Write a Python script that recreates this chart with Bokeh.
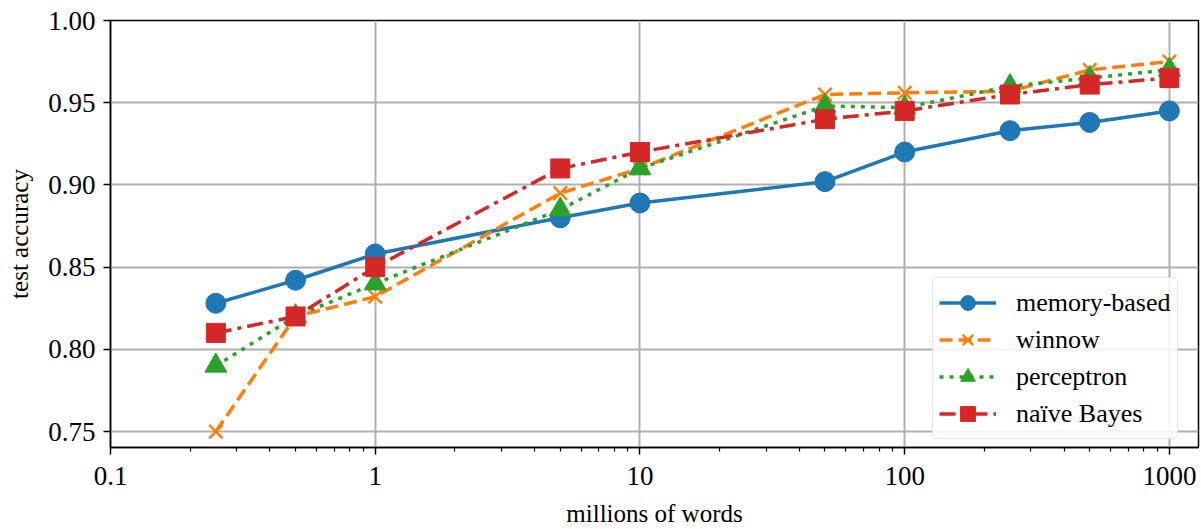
from bokeh.plotting import figure
from bokeh.models import (FixedTicker, NumeralTickFormatter, Range1d, Legend, LegendItem)
from bokeh.embed import file_html
from bokeh.resources import INLINE

# Training corpus size (millions of words) and test accuracy per learner
words = [0.25, 0.5, 1, 5, 10, 50, 100, 250, 500, 1000]
memory_based = [0.828, 0.842, 0.858, 0.880, 0.889, 0.902, 0.920, 0.933, 0.938, 0.945]
winnow = [0.750, 0.820, 0.832, 0.895, 0.910, 0.955, 0.956, 0.957, 0.970, 0.975]
perceptron = [0.790, 0.820, 0.840, 0.885, 0.910, 0.948, 0.947, 0.960, 0.965, 0.970]
naive_bayes = [0.810, 0.820, 0.850, 0.910, 0.920, 0.940, 0.945, 0.955, 0.961, 0.965]

x_ticks = [0.1, 1, 10, 100, 1000]
x_tick_labels = ["0.1", "1", "10", "100", "1000"]
y_ticks = [0.75, 0.80, 0.85, 0.90, 0.95, 1.00]

FONT = "Liberation Serif"

p = figure(width=1201, height=529, x_axis_type="log",
           x_range=Range1d(0.1, 1288), y_range=Range1d(0.7403, 1.0),
           output_backend="svg", toolbar_location=None,
           min_border_left=110, min_border_right=3,
           min_border_top=20, min_border_bottom=81)

p.outline_line_color = "black"
p.outline_line_width = 1.5
p.background_fill_color = "white"
p.border_fill_color = "white"

minor = [m * d for d in [0.1, 1, 10, 100, 1000] for m in range(2, 10) if m * d < 1288]
p.xaxis.ticker = FixedTicker(ticks=x_ticks, minor_ticks=minor)
p.xaxis.major_label_overrides = {t: s for t, s in zip(x_ticks, x_tick_labels)}
p.yaxis.ticker = FixedTicker(ticks=y_ticks)
p.yaxis.formatter = NumeralTickFormatter(format="0.00")

for ax in (p.xaxis, p.yaxis):
    ax.axis_line_color = "black"
    ax.axis_line_width = 1.5
    ax.major_tick_line_color = "black"
    ax.major_tick_line_width = 1.5
    ax.major_tick_in = 0
    ax.major_tick_out = 7
    ax.minor_tick_line_color = "black"
    ax.minor_tick_line_width = 1.2
    ax.minor_tick_in = 0
    ax.minor_tick_out = 4
    ax.major_label_text_font = FONT
    ax.major_label_text_font_size = "27px"
    ax.major_label_text_color = "black"
    ax.axis_label_text_font = FONT
    ax.axis_label_text_font_size = "25px"
    ax.axis_label_text_font_style = "normal"
    ax.axis_label_text_color = "black"
p.yaxis.minor_tick_out = 0
p.xaxis.major_label_standoff = 12
p.yaxis.major_label_standoff = 8
p.xaxis.axis_label = "millions of words"
p.yaxis.axis_label = "test accuracy"
p.xaxis.axis_label_standoff = 12
p.yaxis.axis_label_standoff = 12

p.xgrid.grid_line_color = "#b0b0b0"
p.ygrid.grid_line_color = "#b0b0b0"
p.xgrid.grid_line_width = 2
p.ygrid.grid_line_width = 2

LW = 3.5
items = []

r1 = p.line(words, memory_based, line_color="#1f77b4", line_width=LW)
s1 = p.scatter(words, memory_based, marker="circle", size=20,
               fill_color="#1f77b4", line_color="#1f77b4")
items.append(LegendItem(label="memory-based", renderers=[r1, s1]))

r2 = p.line(words, winnow, line_color="#ff7f0e", line_width=LW, line_dash="13 6")
s2 = p.scatter(words, winnow, marker="x", size=19,
               line_color="#ff7f0e", line_width=2.5)
items.append(LegendItem(label="winnow", renderers=[r2, s2]))

r3 = p.line(words, perceptron, line_color="#2ca02c", line_width=LW, line_dash="4 6")
s3 = p.scatter(words, perceptron, marker="triangle", size=22,
               fill_color="#2ca02c", line_color="#2ca02c")
items.append(LegendItem(label="perceptron", renderers=[r3, s3]))

r4 = p.line(words, naive_bayes, line_color="#d62728", line_width=LW, line_dash="16 6 4 6")
s4 = p.scatter(words, naive_bayes, marker="square", size=19,
               fill_color="#d62728", line_color="#d62728")
items.append(LegendItem(label="naïve Bayes", renderers=[r4, s4]))

legend = Legend(items=items, location=(822, 8))
legend.label_text_font = FONT
legend.label_text_font_size = "26px"
legend.label_text_color = "black"
legend.glyph_width = 57
legend.glyph_height = 37
legend.label_height = 37
legend.spacing = 0
legend.padding = 6
legend.margin = 0
legend.label_standoff = 20
legend.border_line_color = "#cccccc"
legend.border_line_width = 1.5
legend.border_radius = 5
legend.background_fill_color = "white"
legend.background_fill_alpha = 0.85
p.add_layout(legend, "center")

open("out.html", "w").write(file_html(p, INLINE))
